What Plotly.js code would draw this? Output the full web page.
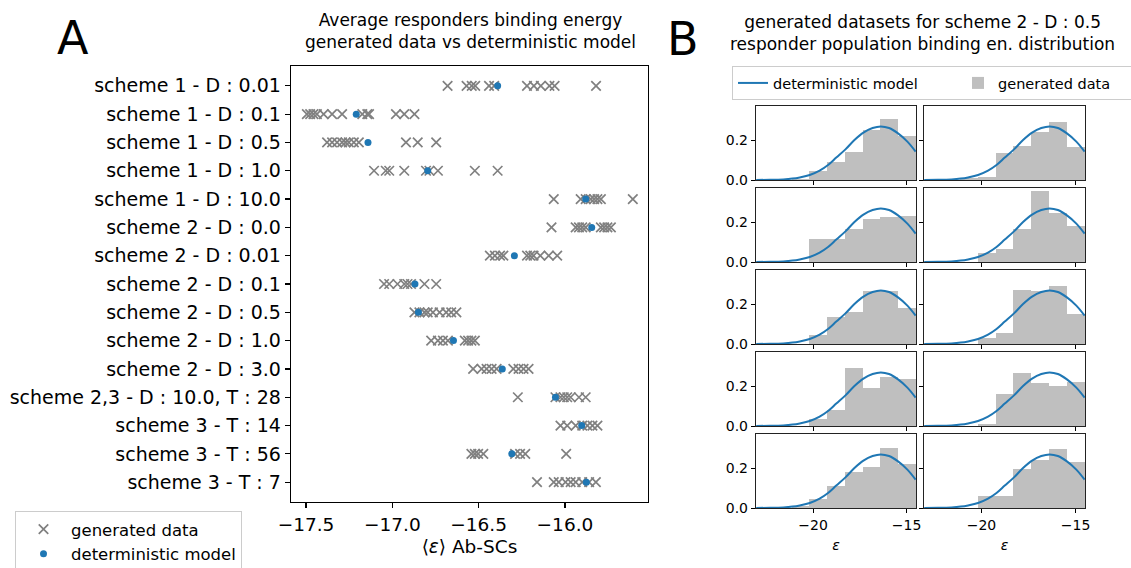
<!DOCTYPE html>
<html>
<head>
<meta charset="utf-8">
<script src="https://cdn.plot.ly/plotly-3.0.1.min.js"></script>
<style>html,body{margin:0;padding:0;background:#fff;}#chart{width:1131px;height:568px;}</style>
</head>
<body>
<div id="chart"></div>
<script>
// ---------- Panel A data ----------
const categories = [
  "scheme 1 - D : 0.01", "scheme 1 - D : 0.1", "scheme 1 - D : 0.5", "scheme 1 - D : 1.0",
  "scheme 1 - D : 10.0", "scheme 2 - D : 0.0", "scheme 2 - D : 0.01", "scheme 2 - D : 0.1",
  "scheme 2 - D : 0.5", "scheme 2 - D : 1.0", "scheme 2 - D : 3.0", "scheme 2,3 - D : 10.0, T : 28",
  "scheme 3 - T : 14", "scheme 3 - T : 56", "scheme 3 - T : 7"
];
const generatedData = [
  [-16.68, -16.57, -16.54, -16.52, -16.44, -16.41, -16.22, -16.18, -16.14, -16.09, -16.06, -15.82],
  [-17.495, -17.476, -17.457, -17.437, -17.398, -17.349, -17.291, -17.174, -17.145, -17.135, -16.979, -16.931, -16.872],
  [-17.378, -17.349, -17.32, -17.291, -17.271, -17.252, -17.223, -17.194, -16.921, -16.853, -16.746],
  [-17.106, -17.038, -17.018, -16.931, -16.805, -16.785, -16.736, -16.522, -16.39],
  [-16.065, -15.909, -15.88, -15.851, -15.831, -15.812, -15.792, -15.607],
  [-16.078, -15.938, -15.919, -15.9, -15.88, -15.792, -15.773, -15.754, -15.734],
  [-16.435, -16.406, -16.376, -16.357, -16.22, -16.201, -16.182, -16.143, -16.094, -16.045],
  [-17.048, -17.018, -16.97, -16.931, -16.912, -16.892, -16.814, -16.746],
  [-16.872, -16.843, -16.814, -16.795, -16.765, -16.726, -16.688, -16.659, -16.629],
  [-16.775, -16.736, -16.707, -16.678, -16.58, -16.561, -16.542, -16.522],
  [-16.532, -16.483, -16.454, -16.425, -16.396, -16.299, -16.269, -16.24, -16.211],
  [-16.273, -16.055, -16.026, -16.007, -15.987, -15.967, -15.919, -15.88],
  [-16.026, -15.987, -15.938, -15.9, -15.87, -15.841, -15.812],
  [-16.542, -16.522, -16.503, -16.473, -16.289, -16.26, -16.23, -15.993],
  [-16.162, -16.065, -16.036, -15.997, -15.967, -15.938, -15.9, -15.86, -15.821]
];
const deterministicModel = [-16.39, -17.209, -17.141, -16.795, -15.88, -15.845, -16.293, -16.869,
  -16.849, -16.646, -16.363, -16.055, -15.903, -16.308, -15.876];
const xTicksA = [-17.5, -17.0, -16.5, -16.0];

// ---------- Panel B data ----------
const binEdges = [-21.15, -20.2, -19.25, -18.3, -17.35, -16.4, -15.45, -14.5];
const hist1L = [0.004, 0.045, 0.088, 0.138, 0.25, 0.305, 0.22];
const hist1R = [0.01, 0.017, 0.133, 0.17, 0.238, 0.292, 0.167];
const hist2L = [0, 0.113, 0.113, 0.164, 0.215, 0.224, 0.23];
const hist2R = [0, 0.046, 0.066, 0.164, 0.354, 0.243, 0.182];
const hist3L = [0, 0.045, 0.133, 0.162, 0.267, 0.267, 0.18];
const hist3R = [0, 0.03, 0.057, 0.27, 0.263, 0.29, 0.15];
const hist4L = [0, 0.037, 0.078, 0.288, 0.188, 0.245, 0.237];
const hist4R = [0, 0.01, 0.16, 0.265, 0.217, 0.2, 0.22];
const hist5L = [0.008, 0.045, 0.112, 0.178, 0.203, 0.3, 0.222];
const hist5R = [0, 0.058, 0.058, 0.195, 0.238, 0.297, 0.228];
const histograms = [hist1L, hist1R, hist2L, hist2R, hist3L, hist3R, hist4L, hist4R, hist5L, hist5R];
const modelX = [-23.04, -22.3, -21.59, -21.1, -20.71, -20.18, -19.65, -19.2, -18.76, -18.27,
  -17.79, -17.31, -16.82, -16.38, -15.94, -15.46, -14.96, -14.52];
const modelY = [0.0005, 0.001, 0.003, 0.007, 0.013, 0.025, 0.047, 0.075, 0.112, 0.153,
  0.2, 0.237, 0.26, 0.268, 0.26, 0.233, 0.192, 0.142];

// ---------- geometry helpers ----------
const W = 1131, H = 568;
const fx = p => p / W;
const fy = p => 1 - p / H;
const FONT = "DejaVu Sans, sans-serif";

const traces = [];
const layout = {
  width: W, height: H,
  margin: {l: 0, r: 0, t: 0, b: 0, autoexpand: false},
  paper_bgcolor: "#fff", plot_bgcolor: "#fff",
  font: {family: FONT, color: "#000"},
  showlegend: true,
  bargap: 0,
  annotations: [],
  shapes: []
};

// ----- Panel A -----
const xs = [], ys = [];
generatedData.forEach((row, i) => row.forEach(v => { xs.push(v); ys.push(i); }));
traces.push({
  type: "scatter", mode: "markers", x: xs, y: ys, xaxis: "x", yaxis: "y",
  name: "generated data", legend: "legend",
  marker: {symbol: "x-thin-open", size: 9.5, color: "#808080", line: {color: "#808080", width: 1.7}},
  hoverinfo: "x"
});
traces.push({
  type: "scatter", mode: "markers", x: deterministicModel, y: categories.map((c, i) => i),
  xaxis: "x", yaxis: "y", name: "deterministic model", legend: "legend",
  marker: {symbol: "circle", size: 7, color: "#1f77b4"}
});

layout.xaxis = {
  domain: [fx(291), fx(648)], anchor: "y", range: [-17.587, -15.519],
  tickvals: xTicksA, ticktext: xTicksA.map(v => "\u2212" + Math.abs(v).toFixed(1)),
  ticks: "outside", ticklen: 5, tickwidth: 1.2, tickcolor: "#000",
  showline: true, mirror: true, linecolor: "#000", linewidth: 1.3,
  showgrid: false, zeroline: false,
  tickfont: {size: 18.5, family: FONT},
  title: {text: "\u27e8<i>\u03b5</i>\u27e9 Ab-SCs", font: {size: 18.5, family: FONT}, standoff: 6}
};
layout.yaxis = {
  domain: [fy(502), fy(66)], anchor: "x", range: [14.7, -0.7],
  tickvals: categories.map((c, i) => i), ticktext: categories,
  ticks: "outside", ticklen: 5, tickwidth: 1.2, tickcolor: "#000",
  showline: true, mirror: true, linecolor: "#000", linewidth: 1.3,
  showgrid: false, zeroline: false,
  tickfont: {size: 19, family: FONT}
};

layout.legend = {
  x: fx(15), y: fy(511), xanchor: "left", yanchor: "top",
  bordercolor: "#cccccc", borderwidth: 1, bgcolor: "rgba(255,255,255,0.8)",
  font: {size: 16.5, family: FONT}, tracegroupgap: 0, itemwidth: 45
};

// ----- Panel B -----
const colX = [[756, 916], [924, 1085]];
const rowY = [[105.7, 180], [187.7, 262], [269.7, 344], [351.7, 426], [433.7, 508]];
const centers = binEdges.slice(0, -1).map((e, i) => (e + binEdges[i + 1]) / 2);
const widths = binEdges.slice(0, -1).map((e, i) => binEdges[i + 1] - e);

for (let r = 0; r < 5; r++) {
  for (let c = 0; c < 2; c++) {
    const k = r * 2 + c;
    const n = k + 2;
    const xa = "x" + n, ya = "y" + n;
    traces.push({
      type: "bar", x: centers, y: histograms[k], width: widths,
      xaxis: xa, yaxis: ya, marker: {color: "#bfbfbf", line: {width: 0}},
      name: "generated data", legend: "legend2", legendrank: 2,
      showlegend: k === 0
    });
    traces.push({
      type: "scatter", mode: "lines", x: modelX, y: modelY,
      xaxis: xa, yaxis: ya, line: {color: "#1f77b4", width: 2, shape: "spline"},
      name: "deterministic model", legend: "legend2", legendrank: 1,
      showlegend: k === 0
    });
    const bottom = r === 4, left = c === 0;
    layout["xaxis" + n] = {
      domain: [fx(colX[c][0]), fx(colX[c][1])], anchor: ya, range: [-23.05, -14.5],
      tickvals: [-20, -15], ticks: "outside", ticklen: 4, tickcolor: "#000", tickwidth: 1,
      showticklabels: bottom, tickfont: {size: 14, family: FONT},
      showline: true, mirror: true, linecolor: "#222", linewidth: 1.2,
      showgrid: false, zeroline: false,
      title: bottom ? {text: "<i>\u03b5</i>", font: {size: 14, family: FONT}, standoff: 8} : {text: ""}
    };
    layout["yaxis" + n] = {
      domain: [fy(rowY[r][1]), fy(rowY[r][0])], anchor: xa, range: [0, 0.3715],
      tickvals: [0, 0.2], ticktext: ["0.0", "0.2"], ticks: "outside", ticklen: 4,
      tickcolor: "#000", tickwidth: 1, showticklabels: left, tickfont: {size: 14, family: FONT},
      showline: true, mirror: true, linecolor: "#222", linewidth: 1.2,
      showgrid: false, zeroline: false
    };
  }
}

layout.legend2 = {
  orientation: "h", x: fx(732), y: fy(66), xanchor: "left", yanchor: "top",
  bordercolor: "#cccccc", borderwidth: 1, bgcolor: "#fff",
  font: {size: 14.5, family: FONT}, traceorder: "normal", entrywidth: 180
};

// ----- titles and panel letters -----
layout.annotations.push(
  {text: "Average responders binding energy<br>generated data vs deterministic model",
   x: fx(470), y: fy(31), xref: "paper", yref: "paper", xanchor: "center", yanchor: "middle",
   showarrow: false, font: {size: 17, family: FONT}},
  {text: "generated datasets for scheme 2 - D : 0.5<br>responder population binding en. distribution",
   x: fx(922), y: fy(33), xref: "paper", yref: "paper", xanchor: "center", yanchor: "middle",
   showarrow: false, font: {size: 17, family: FONT}},
  {text: "A", x: fx(73), y: fy(38), xref: "paper", yref: "paper", xanchor: "center", yanchor: "middle",
   showarrow: false, font: {size: 46, family: FONT}},
  {text: "B", x: fx(683), y: fy(39), xref: "paper", yref: "paper", xanchor: "center", yanchor: "middle",
   showarrow: false, font: {size: 46, family: FONT}}
);

Plotly.newPlot("chart", traces, layout, {displayModeBar: false, staticPlot: true});
</script>
</body>
</html>
